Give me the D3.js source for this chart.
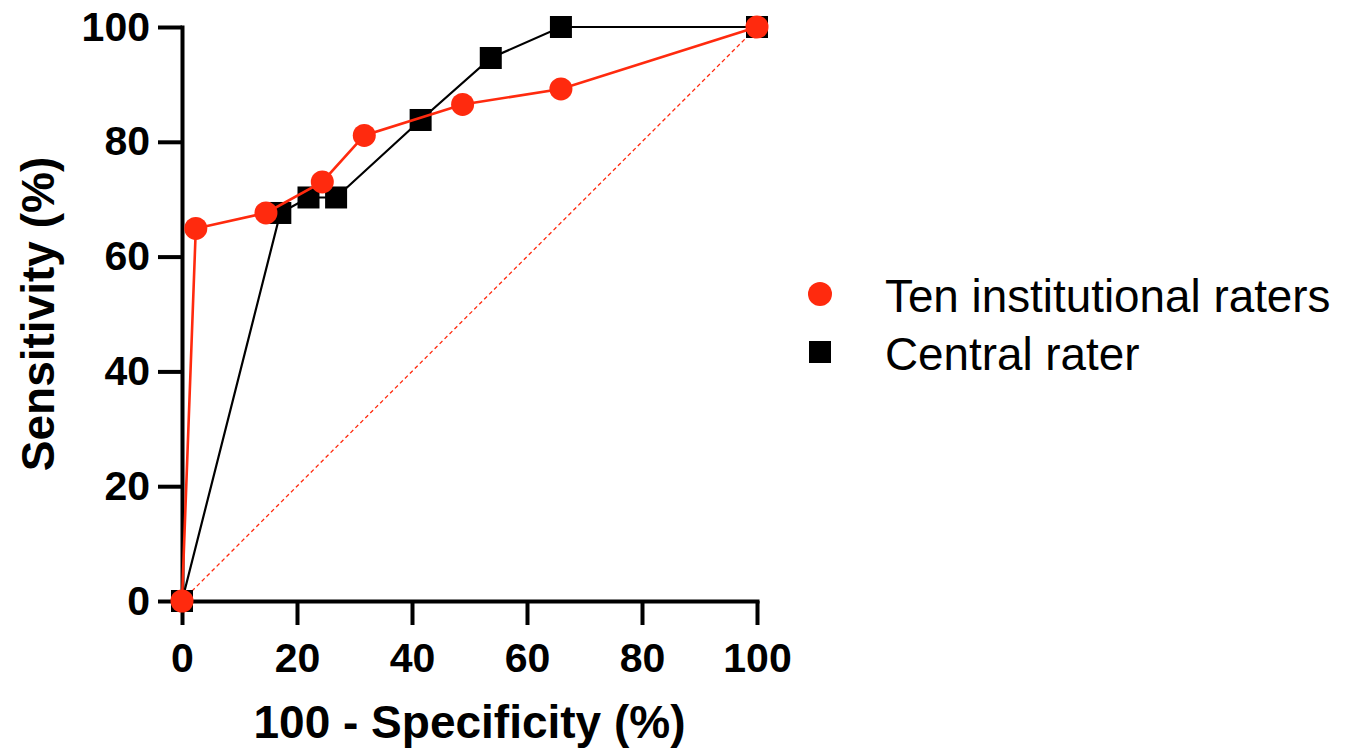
<!DOCTYPE html>
<html>
<head>
<meta charset="utf-8">
<script src="https://cdn.jsdelivr.net/npm/d3@7"></script>
<style>
  html, body { margin: 0; padding: 0; background: #fff; }
  svg { display: block; }
</style>
</head>
<body>
<svg id="chart" width="1349" height="753"></svg>
<script>
// ---- data ----
const seriesNames = ["Ten institutional raters", "Central rater"];
const tenX = [0, 2.4, 14.6, 24.4, 31.7, 48.8, 65.9, 100];
const tenY = [0, 64.9, 67.6, 73.0, 81.1, 86.5, 89.2, 100];
const centralX = [0, 17.1, 22.0, 26.8, 41.5, 53.7, 65.9, 100];
const centralY = [0, 67.6, 70.3, 70.3, 83.8, 94.6, 100, 100];
const referenceX = [0, 100];
const referenceY = [0, 100];
const xTicks = [0, 20, 40, 60, 80, 100];
const yTicks = [0, 20, 40, 60, 80, 100];
const xTitle = "100 - Specificity (%)";
const yTitle = "Sensitivity (%)";

const RED = "#ff2a0e";
const FONT = "'Liberation Sans', Arial, sans-serif";
const svg = d3.select("#chart");
const x = d3.scaleLinear().domain([0, 100]).range([182, 757]);
const y = d3.scaleLinear().domain([0, 100]).range([601, 27]);

const zip = (xs, ys) => xs.map((v, i) => [v, ys[i]]);
const ten = zip(tenX, tenY);
const central = zip(centralX, centralY);
const ref = zip(referenceX, referenceY);
const line = d3.line().x(d => x(d[0])).y(d => y(d[1]));

// axes
const xAxis = svg.append("g").attr("transform", `translate(0,${y(0)})`)
  .call(d3.axisBottom(x).tickValues(xTicks).tickSize(24).tickSizeOuter(0).tickPadding(18));
const yAxis = svg.append("g").attr("transform", `translate(${x(0)},0)`)
  .call(d3.axisLeft(y).tickValues(yTicks).tickSize(24).tickSizeOuter(0).tickPadding(8));
[xAxis, yAxis].forEach(g => {
  g.select(".domain").attr("stroke", "#000").attr("stroke-width", 4).attr("stroke-linecap", "square");
  g.selectAll(".tick line").attr("stroke", "#000").attr("stroke-width", 4);
  g.selectAll(".tick text").attr("fill", "#000")
    .style("font-family", FONT)
    .style("font-weight", "bold").style("font-size", "41px");
});

// reference diagonal
svg.append("path").datum(ref).attr("d", line)
  .attr("fill", "none").attr("stroke", RED).attr("stroke-width", 1.3)
  .attr("stroke-dasharray", "4,3");

// central rater line + squares
svg.append("path").datum(central).attr("d", line)
  .attr("fill", "none").attr("stroke", "#000").attr("stroke-width", 2.2);
const sq = 22;
svg.append("g").selectAll("rect").data(central).join("rect")
  .attr("x", d => x(d[0]) - sq / 2).attr("y", d => y(d[1]) - sq / 2)
  .attr("width", sq).attr("height", sq).attr("fill", "#000");

// ten raters line + circles
svg.append("path").datum(ten).attr("d", line)
  .attr("fill", "none").attr("stroke", RED).attr("stroke-width", 2.6);
svg.append("g").selectAll("circle").data(ten).join("circle")
  .attr("cx", d => x(d[0])).attr("cy", d => y(d[1])).attr("r", 11.5)
  .attr("fill", RED);

// axis titles
svg.append("text").text(xTitle)
  .attr("x", (x(0) + x(100)) / 2).attr("y", 738)
  .attr("text-anchor", "middle")
  .style("font-family", FONT)
  .style("font-weight", "bold").style("font-size", "46px");
svg.append("text").text(yTitle)
  .attr("transform", `translate(54,${(y(0) + y(100)) / 2}) rotate(-90)`)
  .attr("text-anchor", "middle")
  .style("font-family", FONT)
  .style("font-weight", "bold").style("font-size", "46px");

// legend
const legend = svg.append("g");
legend.append("circle").attr("cx", 820).attr("cy", 294).attr("r", 12).attr("fill", RED);
legend.append("rect").attr("x", 820 - 11).attr("y", 352 - 11).attr("width", 22).attr("height", 22).attr("fill", "#000");
legend.selectAll("text").data(seriesNames).join("text")
  .attr("x", 885).attr("y", (d, i) => 312 + i * 58)
  .text(d => d)
  .style("font-family", FONT)
  .style("font-size", "45.8px").attr("fill", "#000");
</script>
</body>
</html>
